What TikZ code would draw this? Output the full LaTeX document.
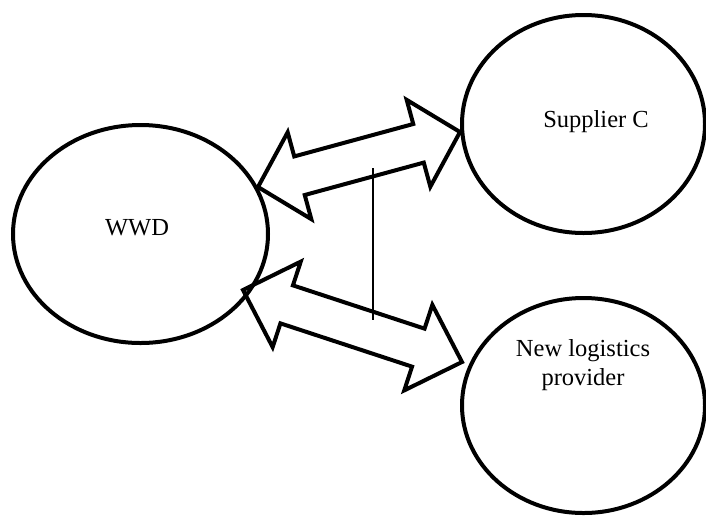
\documentclass[tikz,border=0pt]{standalone}
\usepackage{fontspec}
\setmainfont{Liberation Serif}
\usetikzlibrary{shapes.geometric,calc}

% Double block arrow from #1 to #2: head length, head half width, shaft half width
\newcommand\dblockarrow[5]{%
  \draw[blockarrow]
    (#1)
    -- ($(#1)!#3!(#2)!#4!90:(#2)$)
    -- ($(#1)!#3!(#2)!#5!90:(#2)$)
    -- ($(#2)!#3!(#1)!#5!-90:(#1)$)
    -- ($(#2)!#3!(#1)!#4!-90:(#1)$)
    -- (#2)
    -- ($(#2)!#3!(#1)!#4!90:(#1)$)
    -- ($(#2)!#3!(#1)!#5!90:(#1)$)
    -- ($(#1)!#3!(#2)!#5!-90:(#2)$)
    -- ($(#1)!#3!(#2)!#4!-90:(#2)$)
    -- cycle;}

\tikzset{
  party/.style={draw, line width=4pt, ellipse, inner sep=0pt},
  label text/.style={font=\fontsize{24.5}{28.5}\selectfont, inner sep=0pt, anchor=base, align=center},
  blockarrow/.style={draw, line width=4pt, line join=miter},
  thin rule/.style={line width=1.2pt}
}

\begin{document}
\begin{tikzpicture}[x=1pt, y=-1pt]
  \useasboundingbox (0,0) rectangle (706,515);

  % the three parties
  \node[party, minimum width=255pt, minimum height=218pt] (wwd) at (140.5,234) {};
  \node[party, minimum width=243pt, minimum height=218pt] (supc) at (583.5,124) {};
  \node[party, minimum width=243pt, minimum height=215pt] (newlp) at (583.5,405.5) {};

  \node[label text] (wwdtext) at (137,235) {WWD};
  \node[label text] (supctext) at (596,127) {Supplier C};
  \node[label text, anchor=base] (newlptext) at (583,385) {New logistics\\provider};

  % arrow end points on the ellipse borders
  \coordinate (a1l) at (258,187);
  \coordinate (a1r) at (460,132);
  \coordinate (a2l) at (243,290);
  \coordinate (a2r) at (462,362);

  \dblockarrow{a1l}{a1r}{43pt}{45pt}{20pt}
  \dblockarrow{a2l}{a2r}{46pt}{45pt}{20pt}

  % thin vertical rule between the arrows
  \coordinate (rtop) at (373,168);
  \coordinate (rbot) at (373,320);
  \draw[thin rule] (rtop) -- (rbot);
\end{tikzpicture}
\end{document}
